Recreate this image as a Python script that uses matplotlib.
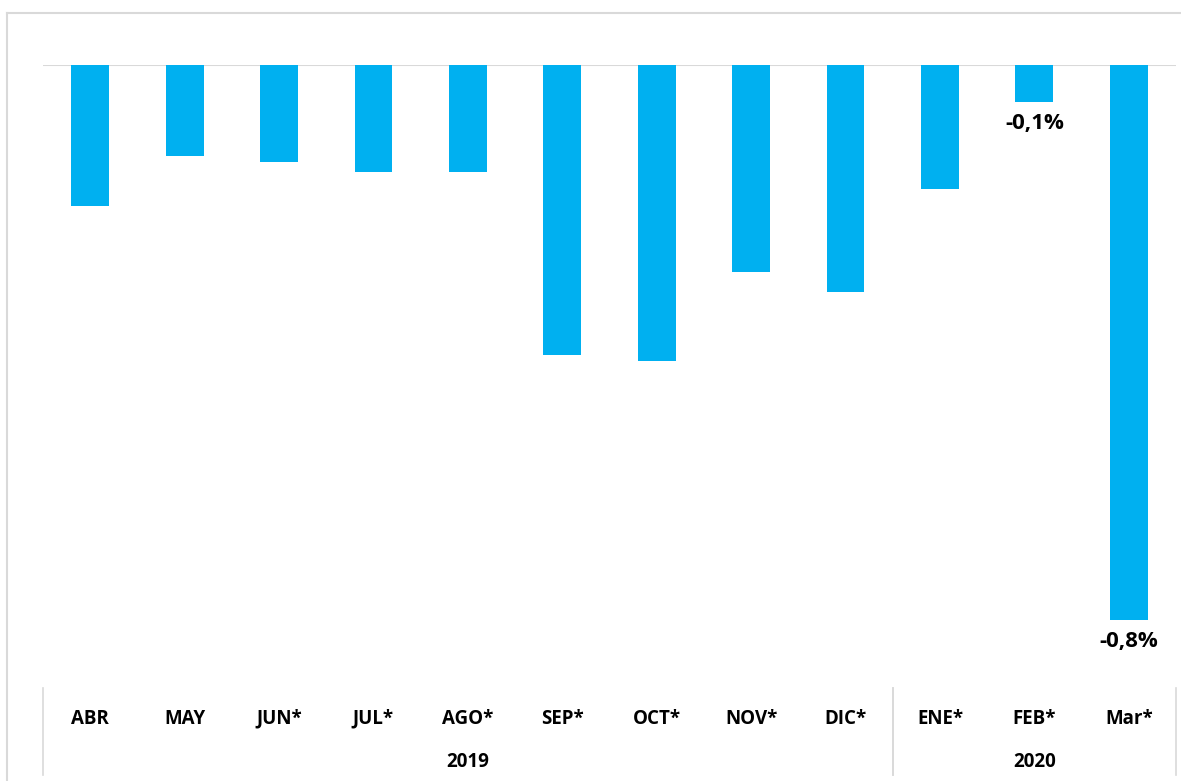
import matplotlib.pyplot as plt
import matplotlib.transforms as mtransforms
from matplotlib.lines import Line2D

# monthly variation (%)
months = ["ABR", "MAY", "JUN*", "JUL*", "AGO*", "SEP*", "OCT*", "NOV*", "DIC*", "ENE*", "FEB*", "Mar*"]
values = [-0.203, -0.131, -0.140, -0.154, -0.154, -0.418, -0.427, -0.298, -0.327, -0.179, -0.053, -0.800]
shown_labels = {10: "-0,1%", 11: "-0,8%"}
years = ["2019", "2020"]
year_spans = [(0, 9), (9, 12)]  # category index ranges

bar_color = "#00B0F0"
grid_color = "#d9d9d9"
font = ["Open Sans", "DejaVu Sans"]
fs = 13.5

W, H = 1181, 781
fig = plt.figure(figsize=(W / 100, H / 100), dpi=100)
ax = fig.add_axes([43 / W, 1 - 688 / H, (1176 - 43) / W, (688 - 65) / H])

x = list(range(len(months)))
ax.bar(x, values, width=0.40, color=bar_color, zorder=2)
ax.set_xlim(-0.5, len(months) - 0.5)
ax.set_ylim(-0.898, 0)

for i, txt in shown_labels.items():
    ax.annotate(txt, (i, values[i]), xytext=(0, -8), textcoords="offset points",
                ha="center", va="top", fontsize=16, fontweight="bold", family=font)

# baseline gridline at zero
ax.axhline(0, color=grid_color, lw=1.5, zorder=1)

for s in ax.spines.values():
    s.set_visible(False)
ax.set_yticks([])
ax.set_xticks(x)
ax.set_xticklabels(months, fontsize=fs, fontweight="bold", family=font)
ax.tick_params(axis="x", length=0, pad=15)

# multi-level category axis: separators and year labels
tr = mtransforms.blended_transform_factory(ax.transData, fig.transFigure)
y_top, y_bot = 1 - 688 / H, 1 - 775 / H
for i0, i1 in year_spans:
    for edge in (i0 - 0.5, i1 - 0.5):
        fig.add_artist(Line2D([edge, edge], [y_top, y_bot], transform=tr, color=grid_color, lw=1.2))
for yr, (i0, i1) in zip(years, year_spans):
    fig.text((i0 + i1 - 1) / 2, 1 - 762 / H, yr, transform=tr, ha="center", va="center",
             fontsize=fs, fontweight="bold", family=font)

# outer chart border (top and left edges visible)
fig.add_artist(Line2D([7 / W, 1], [1 - 13 / H, 1 - 13 / H], transform=fig.transFigure, color=grid_color, lw=1.5))
fig.add_artist(Line2D([7 / W, 7 / W], [1 - 13 / H, 0], transform=fig.transFigure, color=grid_color, lw=1.5))

fig.savefig("out.png", dpi=100)
